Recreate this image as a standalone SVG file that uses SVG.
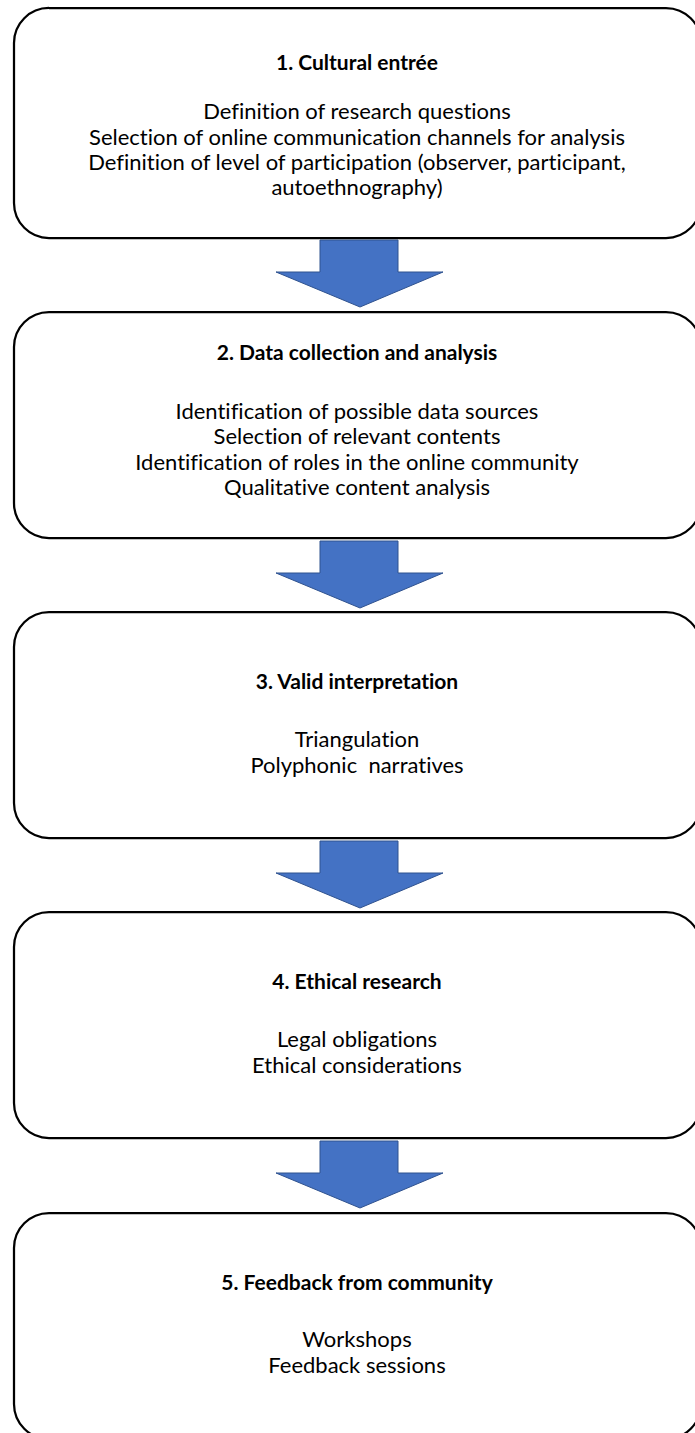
<svg xmlns="http://www.w3.org/2000/svg" width="695" height="1433" viewBox="0 0 695 1433">
  <style>
    .box { fill: #ffffff; stroke: #000000; stroke-width: 2.25; }
    .arrow { fill: #4472C4; stroke: #2F528F; stroke-width: 1; stroke-linejoin: miter; }
    text { font-family: Lato, "Open Sans", "Liberation Sans", sans-serif; font-size: 22px; fill: #000000; text-anchor: middle; font-variant-ligatures: none; }
    .title { font-weight: bold; font-size: 21px; }
  </style>
  <defs>
    <!-- block arrow pointing down, origin at the top-left of its shaft -->
    <path id="down" d="M0,0 H78 V32 H123 L40,67 L-44,32 H0 Z"/>
  </defs>
  <rect width="695" height="1433" fill="#ffffff"/>

  <g id="connectors">
    <use href="#down" class="arrow" x="320" y="240"/>
    <use href="#down" class="arrow" x="320" y="541"/>
    <use href="#down" class="arrow" x="320" y="841"/>
    <use href="#down" class="arrow" x="320" y="1141"/>
  </g>

  <g id="step1">
    <rect class="box" x="14" y="8" width="687" height="230" rx="35" ry="35"/>
    <text class="title" x="357" y="70">1. Cultural entrée</text>
    <text x="357" y="119">Definition of research questions</text>
    <text x="357" y="145">Selection of online communication channels for analysis</text>
    <text x="357" y="170">Definition of level of participation (observer, participant,</text>
    <text x="357" y="195">autoethnography)</text>
  </g>

  <g id="step2">
    <rect class="box" x="14" y="312" width="687" height="226" rx="35" ry="35"/>
    <text class="title" x="357" y="360">2. Data collection and analysis</text>
    <text x="357" y="419">Identification of possible data sources</text>
    <text x="357" y="444">Selection of relevant contents</text>
    <text x="357" y="470">Identification of roles in the online community</text>
    <text x="357" y="495">Qualitative content analysis</text>
  </g>

  <g id="step3">
    <rect class="box" x="14" y="612" width="687" height="226" rx="35" ry="35"/>
    <text class="title" x="357" y="689">3. Valid interpretation</text>
    <text x="357" y="747">Triangulation</text>
    <text x="357" y="773" xml:space="preserve">Polyphonic  narratives</text>
  </g>

  <g id="step4">
    <rect class="box" x="14" y="912" width="687" height="226" rx="35" ry="35"/>
    <text class="title" x="357" y="989">4. Ethical research</text>
    <text x="357" y="1047">Legal obligations</text>
    <text x="357" y="1073">Ethical considerations</text>
  </g>

  <g id="step5">
    <rect class="box" x="14" y="1213" width="687" height="226" rx="35" ry="35"/>
    <text class="title" x="357" y="1290">5. Feedback from community</text>
    <text x="357" y="1347">Workshops</text>
    <text x="357" y="1373">Feedback sessions</text>
  </g>
</svg>
